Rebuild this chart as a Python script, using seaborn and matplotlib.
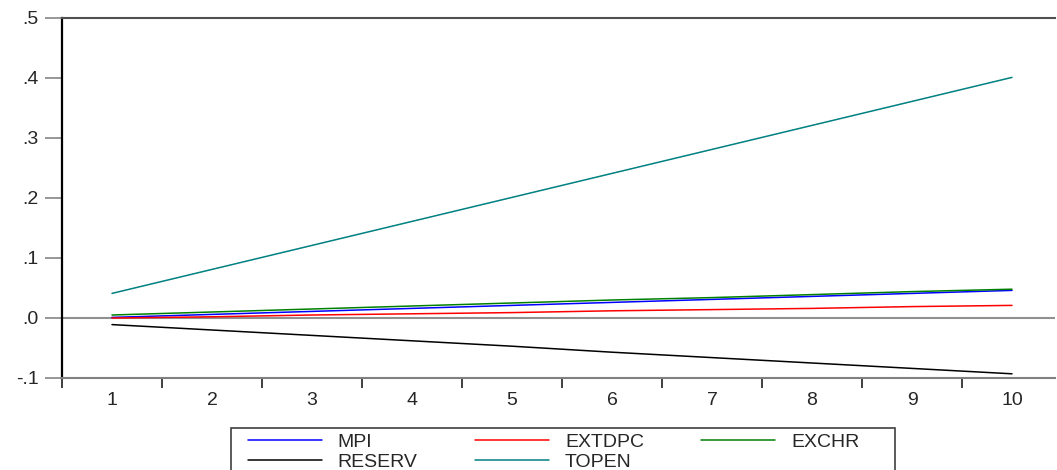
import numpy as np
import pandas as pd
import seaborn as sns
import matplotlib.pyplot as plt
from matplotlib.lines import Line2D
from matplotlib.patches import Rectangle
from matplotlib.ticker import FixedLocator

periods = [1, 2, 3, 4, 5, 6, 7, 8, 9, 10]
mpi = [0.001, 0.006, 0.011, 0.016, 0.021, 0.026, 0.031, 0.036, 0.041, 0.046]
extdpc = [0.000, 0.002, 0.005, 0.007, 0.009, 0.012, 0.014, 0.016, 0.019, 0.021]
exchr = [0.005, 0.010, 0.015, 0.020, 0.025, 0.030, 0.034, 0.039, 0.044, 0.048]
reserv = [-0.011, -0.020, -0.029, -0.038, -0.047, -0.057, -0.066, -0.075, -0.084, -0.093]
topen = [0.041, 0.081, 0.121, 0.161, 0.201, 0.241, 0.281, 0.321, 0.361, 0.401]

names = ["MPI", "EXTDPC", "EXCHR", "RESERV", "TOPEN"]
colors = ["#0000ff", "#ff0000", "#008000", "#000000", "#008080"]
yticks = [-0.1, 0.0, 0.1, 0.2, 0.3, 0.4, 0.5]
ylabels = ["-.1", ".0", ".1", ".2", ".3", ".4", ".5"]

data = pd.DataFrame({"period": periods * 5,
                     "value": mpi + extdpc + exchr + reserv + topen,
                     "series": [n for n in names for _ in periods]})

sns.set_style("white")
plt.rcParams["font.family"] = ["Liberation Sans", "DejaVu Sans"]

fig = plt.figure(figsize=(10.57, 4.70), dpi=100)
ax = fig.add_axes([62/1057, 1-378/470, 993/1057, 360/470])

ax.axhline(0, color="#909090", lw=1.5, zorder=1)
sns.lineplot(data=data, x="period", y="value", hue="series", hue_order=names,
             palette=colors, lw=1.1, legend=False, ax=ax, zorder=3)

ax.set_xlim(0.5, 10.43)
ax.set_ylim(-0.1, 0.5)
ax.set_xticks(periods)
ax.set_xticklabels([str(p) for p in periods])
ax.xaxis.set_minor_locator(FixedLocator([p - 0.5 for p in periods]))
ax.set_yticks(yticks)
ax.set_yticklabels(ylabels)
ax.tick_params(axis="x", which="major", bottom=True, length=0, pad=10, labelsize=14)
ax.tick_params(axis="x", which="minor", bottom=True, length=7, width=1.3,
               color="#303030", direction="out")
ax.tick_params(axis="y", left=True, length=12, width=1.3, color="#909090",
               pad=5, labelsize=14, direction="out")
ax.set_xlabel("")
ax.set_ylabel("")

ax.spines["right"].set_visible(False)
ax.spines["left"].set_color("#000000")
ax.spines["left"].set_linewidth(1.6)
ax.spines["top"].set_color("#505050")
ax.spines["top"].set_linewidth(1.5)
ax.spines["bottom"].set_color("#808080")
ax.spines["bottom"].set_linewidth(1.5)

# legend box runs off the bottom of the figure, like the original
fig.patches.append(Rectangle((231/1057, -0.05), 664/1057, 0.05 + 1 - 428/470,
                             transform=fig.transFigure, fill=False,
                             edgecolor="#404040", lw=1.2))

# legend row by row: MPI EXTDPC EXCHR / RESERV TOPEN
order = [0, 3, 1, 4, 2]
handles = [Line2D([], [], color=colors[i], lw=1.1) for i in order]
labels = [names[i] for i in order]
leg = fig.legend(handles, labels, loc="upper left", ncol=3,
                 bbox_to_anchor=(248/1057, 1-433/470),
                 fontsize=14, handlelength=3.8, handletextpad=0.82,
                 columnspacing=2.95, labelspacing=0.12, borderaxespad=0,
                 borderpad=0, frameon=False)

fig.savefig("out.png", dpi=100)
